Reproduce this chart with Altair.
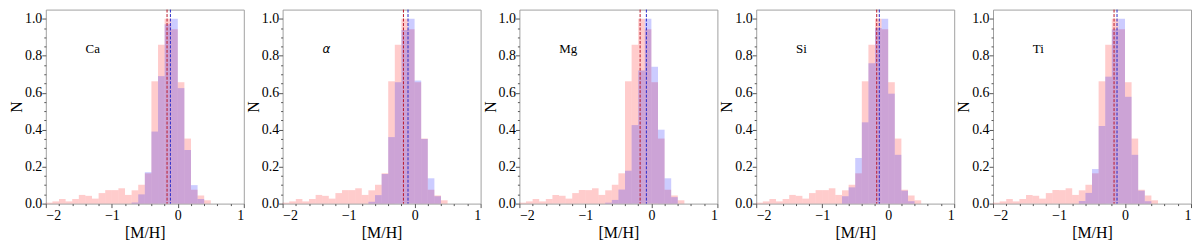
import altair as alt
import pandas as pd

# ---------------- data ----------------
elements = ["Ca", "α", "Mg", "Si", "Ti"]

bin_width = 0.1
red_bin_starts = [-2.0, -1.9, -1.8, -1.7, -1.6, -1.5, -1.4, -1.3, -1.2, -1.1,
                  -1.0, -0.9, -0.8, -0.7, -0.6, -0.5, -0.4, -0.3, -0.2, -0.1,
                  0.0, 0.1, 0.2, 0.3, 0.4]
red_values = [0.005, 0.012, 0.025, 0.012, 0.025, 0.047, 0.042, 0.027, 0.057, 0.073,
              0.073, 0.083, 0.047, 0.072, 0.102, 0.164, 0.662, 0.860, 1.000, 0.944,
              0.657, 0.352, 0.075, 0.044, 0.018]

blue_bin_starts = [-0.7, -0.6, -0.5, -0.4, -0.3, -0.2, -0.1, 0.0, 0.1, 0.2, 0.3]
blue_ca = [0.006, 0.050, 0.170, 0.390, 0.690, 0.970, 1.000, 0.625, 0.290, 0.100, 0.025]
blue_alpha = [0.010, 0.046, 0.160, 0.360, 0.657, 0.940, 1.000, 0.666, 0.350, 0.137, 0.040]
blue_mg = [0.005, 0.020, 0.076, 0.178, 0.425, 0.720, 1.000, 0.740, 0.400, 0.137, 0.035]
blue_si = [0.040, 0.088, 0.247, 0.440, 0.759, 0.950, 1.000, 0.595, 0.264, 0.070, 0.013]
blue_ti = [0.014, 0.058, 0.187, 0.420, 0.687, 0.944, 1.000, 0.578, 0.264, 0.070, 0.013]
blue_values = [blue_ca, blue_alpha, blue_mg, blue_si, blue_ti]

red_means = [-0.163, -0.169, -0.171, -0.174, -0.166]
blue_means = [-0.112, -0.100, -0.076, -0.135, -0.121]

x_tick_values = [-2.0, -1.8, -1.6, -1.4, -1.2, -1.0, -0.8, -0.6, -0.4, -0.2,
                 0.0, 0.2, 0.4, 0.6, 0.8, 1.0]
y_tick_values = [0.0, 0.05, 0.1, 0.15, 0.2, 0.25, 0.3, 0.35, 0.4, 0.45, 0.5,
                 0.55, 0.6, 0.65, 0.7, 0.75, 0.8, 0.85, 0.9, 0.95, 1.0]

# ---------------- style ----------------
W, H = 199, 195
FONT = "Liberation Serif"
RED_FILL = "red"
BLUE_FILL = "blue"
RED_LINE = "#b81828"
BLUE_LINE = "#2a2ac8"

is_major_x = "abs(datum.value - round(datum.value)) < 1e-6"
is_major_y = "abs(datum.value*5 - round(datum.value*5)) < 1e-6"

x_scale = alt.Scale(domain=[-2, 1], nice=False, zero=False)
y_scale = alt.Scale(domain=[0, 1.05], nice=False, zero=True)

x_axis = alt.Axis(
    title="[M/H]", values=x_tick_values, format=".0f",
    labelExpr=f"{is_major_x} ? datum.label : ''",
    tickSize={"condition": {"test": is_major_x, "value": 4}, "value": 2},
    grid=False, domain=False, labelPadding=1, titlePadding=2,
)
y_axis = alt.Axis(
    title="N", values=y_tick_values, format=".1f",
    labelExpr=f"{is_major_y} ? datum.label : ''",
    tickSize={"condition": {"test": is_major_y, "value": 4}, "value": 2},
    grid=False, domain=False, labelPadding=0, titlePadding=0,
)


def panel(i):
    red_df = pd.DataFrame({
        "x0": red_bin_starts,
        "x1": [s + bin_width for s in red_bin_starts],
        "n": red_values,
    })
    blue_df = pd.DataFrame({
        "x0": blue_bin_starts,
        "x1": [s + bin_width for s in blue_bin_starts],
        "n": blue_values[i],
    })
    mean_df = pd.DataFrame({"m": [red_means[i], blue_means[i]], "s": ["red", "blue"]})
    label_df = pd.DataFrame({"t": [elements[i]]})

    red = alt.Chart(red_df).mark_rect(color=RED_FILL, opacity=0.2, strokeWidth=0).encode(
        x=alt.X("x0:Q", scale=x_scale, axis=x_axis),
        x2="x1:Q",
        y=alt.Y("n:Q", scale=y_scale, axis=y_axis),
        y2=alt.datum(0),
    )
    blue = alt.Chart(blue_df).mark_rect(color=BLUE_FILL, opacity=0.2, strokeWidth=0).encode(
        x=alt.X("x0:Q", scale=x_scale, axis=x_axis),
        x2="x1:Q",
        y=alt.Y("n:Q", scale=y_scale, axis=y_axis),
        y2=alt.datum(0),
    )
    lines = alt.Chart(mean_df).mark_rule(strokeDash=[3, 1.5], strokeWidth=1).encode(
        x=alt.X("m:Q", scale=x_scale, axis=x_axis),
        color=alt.Color("s:N", scale=alt.Scale(domain=["red", "blue"], range=[RED_LINE, BLUE_LINE]), legend=None),
    )
    is_alpha = elements[i] == "α"
    label = alt.Chart(label_df).mark_text(
        align="left", baseline="middle",
        font="DejaVu Sans" if is_alpha else FONT,
        fontStyle="italic" if is_alpha else "normal",
        fontSize=12 if is_alpha else 13, color="black",
    ).encode(text="t:N", x=alt.value(40), y=alt.value(40))
    return alt.layer(red, blue, lines, label).properties(width=W, height=H)


chart = alt.hconcat(*[panel(i) for i in range(5)], spacing=39, bounds="flush").properties(
    padding={"left": 0, "top": 0, "right": 0, "bottom": 0}
).configure_axis(
    labelFont=FONT, titleFont=FONT, labelFontSize=14, titleFontSize=16,
    titleFontWeight="normal", labelColor="black", titleColor="black",
    tickColor="#555",
).configure_view(stroke="#a0a0a0", strokeWidth=1)

chart.save("out.html", embed_options={"renderer": "svg", "actions": False})
